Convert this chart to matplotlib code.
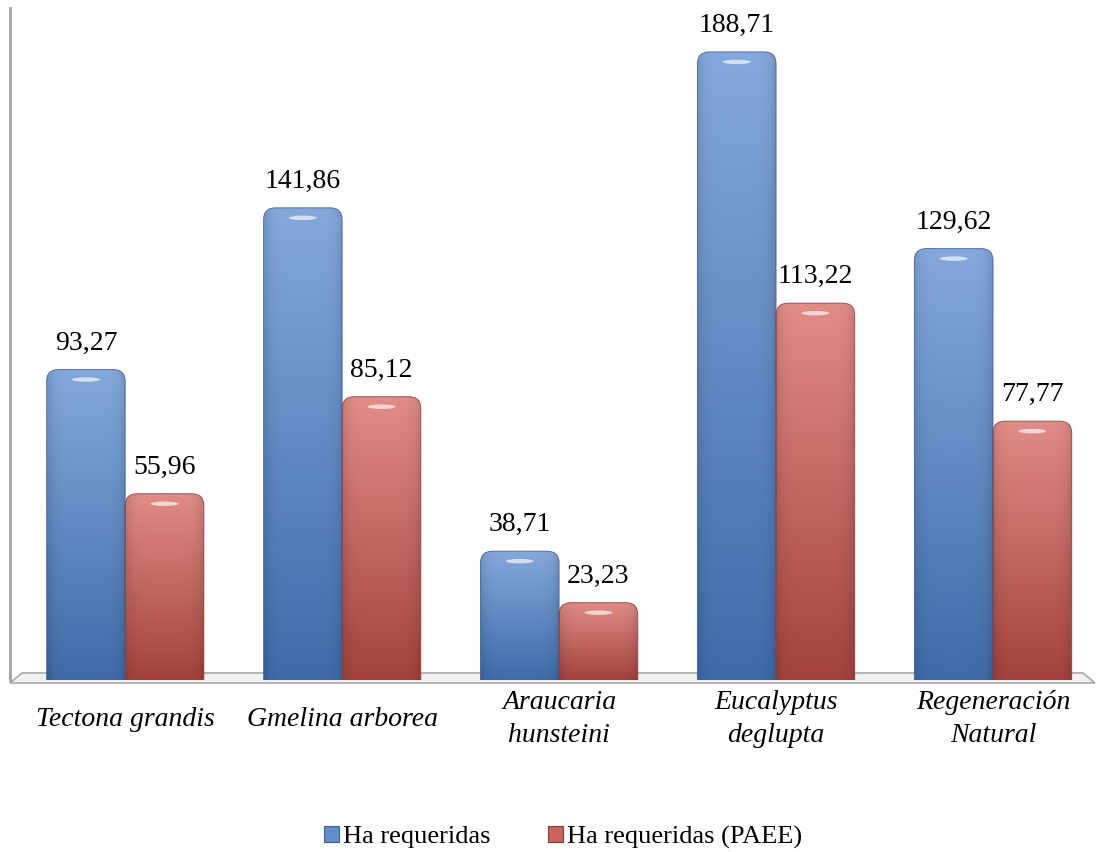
import numpy as np
import matplotlib
matplotlib.use("Agg")
from matplotlib import pyplot as plt
from matplotlib.patches import FancyBboxPatch, Polygon, Ellipse, Patch

plt.rcParams['font.family'] = ['Liberation Serif', 'DejaVu Serif']

especies = ["Tectona grandis", "Gmelina arborea", "Araucaria\nhunsteini",
            "Eucalyptus\ndeglupta", "Regeneración\nNatural"]
ha_requeridas = [93.27, 141.86, 38.71, 188.71, 129.62]
ha_paee = [55.96, 85.12, 23.23, 113.22, 77.77]
series = ["Ha requeridas", "Ha requeridas (PAEE)"]

# colores: (arriba, abajo) de cada degradado
azul = ((0.52, 0.66, 0.86), (0.25, 0.42, 0.66))
rojo = ((0.88, 0.55, 0.53), (0.64, 0.26, 0.24))

W, H = 1100, 852
fig = plt.figure(figsize=(W / 100, H / 100), dpi=100)
ax = fig.add_axes([10 / W, 172 / H, 1085 / W, 672 / H])

x = np.arange(len(especies))
ancho = 0.3625
ax.set_xlim(-0.531, 4.47)
ax.set_ylim(0, 201.9)

b1 = ax.bar(x - ancho / 2, ha_requeridas, ancho, color="none")
b2 = ax.bar(x + ancho / 2, ha_paee, ancho, color="none")

# pixeles por unidad en cada eje
px_x = 1085 / (4.47 + 0.531)
px_y = 672 / 201.9
radio = 12 / px_x


def gradiente(c_top, c_bot, n=200):
    t = np.linspace(0, 1, n)[:, None]
    col = np.array(c_top)[None, None, :] * (1 - t[..., None]) + np.array(c_bot)[None, None, :] * t[..., None]
    # leve oscurecimiento en los costados
    s = np.linspace(-1, 1, 60)
    lado = 1 - 0.12 * s ** 6
    col = col * lado[None, :, None]
    return np.clip(col, 0, 1)


for barras, (ctop, cbot) in ((b1, azul), (b2, rojo)):
    img = gradiente(ctop, cbot)
    for rect in barras:
        x0, w, h = rect.get_x(), rect.get_width(), rect.get_height()
        caja = FancyBboxPatch((x0, -10), w, h + 10,
                              boxstyle=f"round,pad=0,rounding_size={radio}",
                              mutation_aspect=px_x / px_y,
                              facecolor="none",
                              edgecolor=tuple(c * 0.85 for c in cbot), lw=0.7,
                              alpha=0.8, zorder=3)
        ax.add_patch(caja)
        im = ax.imshow(img, extent=(x0, x0 + w, 0, h), aspect="auto",
                       origin="upper", zorder=2, interpolation="bilinear")
        im.set_clip_path(caja)
        ax.add_patch(Ellipse((x0 + w / 2, h - 10 / px_y), 28 / px_x, 4.5 / px_y,
                             facecolor="white", alpha=0.65, lw=0, zorder=4))
        ax.text(x0 + w / 2, h + 14 / px_y, f"{h:.2f}".replace(".", ","),
                ha="center", va="bottom", fontsize=20, zorder=5)

ax.set_xticks([])
ax.set_yticks([])
for lado in ("top", "right", "bottom"):
    ax.spines[lado].set_visible(False)
ax.spines["left"].set_color("#a8a8a8")
ax.spines["left"].set_linewidth(2.2)

# piso del grafico
fy0, fy1 = -3 / 672, 7 / 672
piso = Polygon([(0, fy0), (1, fy0), (1 - 12 / 1085, fy1), (12 / 1085, fy1)],
               closed=True, transform=ax.transAxes, clip_on=False,
               facecolor="#f2f2f2", edgecolor="#a8a8a8", lw=1.2, zorder=1)
ax.add_patch(piso)

for xi, nombre in zip(x, especies):
    ax.text(xi, -39 / px_y, nombre, ha="center", va="center", fontsize=20,
            style="italic", linespacing=1.45)

manejadores = [Patch(facecolor=(0.38, 0.55, 0.79), edgecolor=(0.25, 0.38, 0.6), lw=0.8),
               Patch(facecolor=(0.78, 0.40, 0.38), edgecolor=(0.55, 0.22, 0.22), lw=0.8)]
fig.legend(manejadores, series, loc="center", bbox_to_anchor=(0.512, 15 / H),
           ncol=2, frameon=False, fontsize=19, handlelength=0.55, handleheight=0.55,
           handletextpad=0.15, columnspacing=2.2)

fig.savefig("out.png", dpi=100)
